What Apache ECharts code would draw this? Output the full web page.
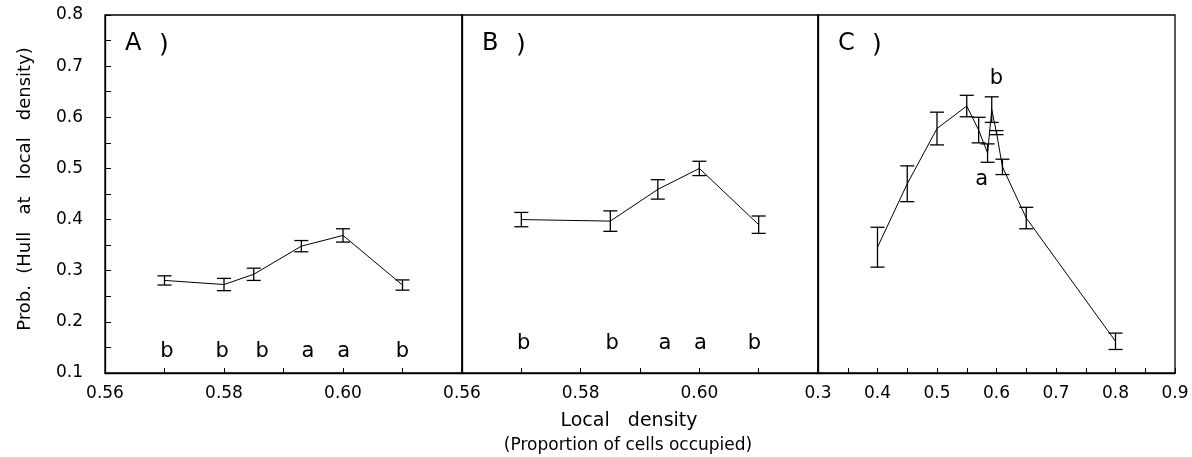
<!DOCTYPE html>
<html>
<head>
<meta charset="utf-8">
<script src="https://cdn.jsdelivr.net/npm/echarts@6/dist/echarts.min.js"></script>
<style>
  html, body { margin: 0; padding: 0; background: #fff; }
  #chart { width: 1192px; height: 457px; }
</style>
</head>
<body>
<div id="chart"></div>
<script>
// panel A
const xA = [0.57, 0.58, 0.585, 0.593, 0.60, 0.61];
const yA = [0.281, 0.273, 0.293, 0.348, 0.369, 0.272];
const errA = [0.009, 0.012, 0.012, 0.011, 0.013, 0.010];
const lettersA = ["b", "b", "b", "a", "a", "b"];
const letterXA = [0.5704, 0.5797, 0.5864, 0.5941, 0.6001, 0.6100];
const letterYA = [0.142, 0.142, 0.142, 0.142, 0.142, 0.142];

// panel B
const xB = [0.57, 0.585, 0.593, 0.60, 0.61];
const yB = [0.400, 0.397, 0.459, 0.500, 0.390];
const errB = [0.014, 0.020, 0.019, 0.014, 0.017];
const lettersB = ["b", "b", "a", "a", "b"];
const letterXB = [0.5704, 0.5853, 0.5942, 0.6002, 0.6093];
const letterYB = [0.158, 0.158, 0.158, 0.158, 0.158];

// panel C
const xC = [0.40, 0.45, 0.50, 0.55, 0.57, 0.585, 0.592, 0.60, 0.61, 0.65, 0.80];
const yC = [0.346, 0.470, 0.578, 0.622, 0.575, 0.530, 0.615, 0.570, 0.503, 0.403, 0.162];
const errC = [0.039, 0.035, 0.032, 0.021, 0.025, 0.018, 0.025, 0.004, 0.015, 0.021, 0.016];
const lettersC = ["b", "a"];
const letterXC = [0.600, 0.575];
const letterYC = [0.675, 0.478];

const panelNames = ["A", "B", "C"];
const FONT = "DejaVu Sans";

const chart = echarts.init(document.getElementById("chart"));

// 패널별 x축 설정 (tick 간격은 눈금, labelStep 배수에만 라벨 표시)
const panels = [
  { x: xA, y: yA, err: errA, letters: lettersA, lx: letterXA, ly: letterYA, min: 0.56, max: 0.62, interval: 0.01, labelStep: 2, digits: 2, showMax: false, left: 105, width: 357 },
  { x: xB, y: yB, err: errB, letters: lettersB, lx: letterXB, ly: letterYB, min: 0.56, max: 0.62, interval: 0.01, labelStep: 2, digits: 2, showMax: false, left: 462, width: 356 },
  { x: xC, y: yC, err: errC, letters: lettersC, lx: letterXC, ly: letterYC, min: 0.3, max: 0.9, interval: 0.05, labelStep: 2, digits: 1, showMax: true, left: 818, width: 357 },
];

const grids = panels.map((p) => ({
  left: p.left, top: 15, width: p.width, height: 358,
  show: true, borderColor: "#000", borderWidth: 1.3, backgroundColor: "transparent",
}));

const xAxes = panels.map((p, i) => ({
  type: "value", gridIndex: i, min: p.min, max: p.max, interval: p.interval,
  axisLine: { show: true, lineStyle: { color: "#000", width: 1.3 } },
  axisTick: { show: true, inside: true, length: 5, lineStyle: { color: "#000" } },
  splitLine: { show: false },
  axisLabel: {
    color: "#000", fontFamily: FONT, fontSize: 17, margin: 12,
    showMaxLabel: p.showMax,
    formatter: (v) => {
      const k = Math.round((v - p.min) / p.interval);
      return k % p.labelStep === 0 ? v.toFixed(p.digits) : "";
    },
  },
}));

const yAxes = panels.map((p, i) => ({
  type: "value", gridIndex: i, min: 0.1, max: 0.8, interval: 0.05,
  axisLine: { show: true, lineStyle: { color: "#000", width: 1.3 } },
  axisTick: { show: i === 0, inside: true, length: 6, lineStyle: { color: "#000" } },
  splitLine: { show: false },
  axisLabel: {
    show: i === 0, color: "#000", fontFamily: FONT, fontSize: 17, margin: 22,
    formatter: (v) => (Math.round(v * 100) % 10 === 0 ? v.toFixed(1) : ""),
  },
}));

const series = [];
panels.forEach((p, i) => {
  // 선
  series.push({
    type: "line", xAxisIndex: i, yAxisIndex: i,
    data: p.x.map((x, k) => [x, p.y[k]]),
    symbol: "none", lineStyle: { color: "#000", width: 1 },
  });
  // 오차 막대
  series.push({
    type: "custom", xAxisIndex: i, yAxisIndex: i,
    data: p.x.map((x, k) => [x, p.y[k], p.err[k]]),
    encode: { x: 0, y: 1 },
    renderItem: (params, api) => {
      const x = api.value(0), y = api.value(1), e = api.value(2);
      const top = api.coord([x, y + e]);
      const bot = api.coord([x, y - e]);
      const w = 7;
      const st = { stroke: "#000", lineWidth: 1.3 };
      return {
        type: "group",
        children: [
          { type: "line", shape: { x1: top[0], y1: top[1], x2: bot[0], y2: bot[1] }, style: st },
          { type: "line", shape: { x1: top[0] - w, y1: top[1], x2: top[0] + w, y2: top[1] }, style: st },
          { type: "line", shape: { x1: bot[0] - w, y1: bot[1], x2: bot[0] + w, y2: bot[1] }, style: st },
        ],
      };
    },
  });
  // 유의성 문자
  series.push({
    type: "custom", xAxisIndex: i, yAxisIndex: i,
    data: p.lx.map((x, k) => [x, p.ly[k]]),
    encode: { x: 0, y: 1 },
    renderItem: (params, api) => {
      const pt = api.coord([api.value(0), api.value(1)]);
      return {
        type: "text", x: pt[0], y: pt[1],
        style: {
          text: p.letters[params.dataIndex], fill: "#000",
          font: "21px " + FONT, align: "center", verticalAlign: "middle",
        },
      };
    },
  });
});

const graphics = [
  {
    type: "text", x: 25, y: 189, rotation: Math.PI / 2,
    style: { text: "Prob.  (Hull   at   local   density)", fill: "#000", font: "18px " + FONT, align: "center", verticalAlign: "middle" },
  },
  {
    type: "text", x: 629, y: 421,
    style: { text: "Local   density", fill: "#000", font: "19px " + FONT, align: "center", verticalAlign: "middle" },
  },
  {
    type: "text", x: 628, y: 446,
    style: { text: "(Proportion of cells occupied)", fill: "#000", font: "17px " + FONT, align: "center", verticalAlign: "middle" },
  },
];
panels.forEach((p, i) => {
  graphics.push({
    type: "text", x: p.left + 20, y: 44,
    style: { text: panelNames[i], fill: "#000", font: "24px " + FONT, align: "left", verticalAlign: "middle" },
  });
  graphics.push({
    type: "text", x: p.left + 54, y: 45,
    style: { text: ")", fill: "#000", font: "25px " + FONT, align: "left", verticalAlign: "middle" },
  });
});

chart.setOption({
  animation: false,
  backgroundColor: "#fff",
  grid: grids,
  xAxis: xAxes,
  yAxis: yAxes,
  series: series,
  graphic: graphics,
});
</script>
</body>
</html>
